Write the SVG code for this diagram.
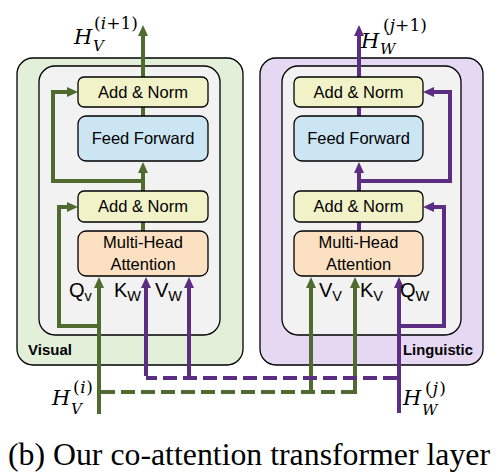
<svg xmlns="http://www.w3.org/2000/svg" width="498" height="474" viewBox="0 0 498 474">
<style>
.outer{stroke:#000;stroke-width:1.3}
.vis{fill:#E2EFD9}
.lin{fill:#E6D7F3}
.inner{fill:#F2F2F2;stroke:#000;stroke-width:1.3}
.an{fill:#F2F2C8;stroke:#000;stroke-width:1.3}
.ff{fill:#CBE5F3;stroke:#000;stroke-width:1.3}
.mha{fill:#FBE0C2;stroke:#000;stroke-width:1.3}
.bt{font-family:"Liberation Sans",Arial,sans-serif;font-size:16.5px;fill:#000;text-anchor:middle}
.lbl{font-family:"Liberation Sans",Arial,sans-serif;font-size:20px;fill:#000}
.sub{font-size:14.5px}
.tag{font-family:"Liberation Sans",Arial,sans-serif;font-size:15px;font-weight:bold;fill:#000}
.math{font-family:"DejaVu Serif","Liberation Serif",serif;fill:#000}
.it{font-style:italic}
.g{fill:none;stroke:#4F6B2F;stroke-width:4}
.p{fill:none;stroke:#5B2D83;stroke-width:4}
.dash{stroke-dasharray:14 6}
.ga{marker-end:url(#ag)}
.pa{marker-end:url(#ap)}
</style>
<defs>
<marker id="ag" markerUnits="userSpaceOnUse" markerWidth="12" markerHeight="11" refX="3" refY="5" orient="auto" viewBox="0 0 12 10">
<path d="M0,0 L11,5 L0,10 z" fill="#4F6B2F"/>
</marker>
<marker id="ap" markerUnits="userSpaceOnUse" markerWidth="12" markerHeight="11" refX="3" refY="5" orient="auto" viewBox="0 0 12 10">
<path d="M0,0 L11,5 L0,10 z" fill="#5B2D83"/>
</marker>
</defs>
<rect width="498" height="474" fill="#fff"/>
<g id="visual-block">
<rect class="outer vis" x="17" y="58" width="226" height="307" rx="16"/>
<rect class="inner" x="39" y="66" width="181" height="269" rx="16"/>
<text class="tag" x="28" y="355">Visual</text>
</g>
<g id="linguistic-block">
<rect class="outer lin" x="260" y="58" width="223" height="307" rx="16"/>
<rect class="inner" x="282" y="66" width="179" height="269" rx="16"/>
<text class="tag" x="403" y="355" style="font-size:14.8px">Linguistic</text>
</g>
<g id="connectors">
<!-- visual stream -->
<path class="g" d="M143,231 V222"/>
<path class="g ga" d="M143,191 V170"/>
<path class="g" d="M143,116 V107"/>
<path class="g ga" d="M143,77 V33"/>
<path class="g ga" d="M143,181 H53 V92 H70"/>
<path class="g ga" d="M99,326 H59 V207 H70"/>
<path class="g ga" d="M99,414 V285"/>
<path class="g dash" d="M101,392 H355"/>
<path class="g ga" d="M311,394 V285"/>
<path class="g ga" d="M355,394 V285"/>
<!-- linguistic stream -->
<path class="p" d="M359,231 V222"/>
<path class="p pa" d="M359,191 V170"/>
<path class="p" d="M359,116 V107"/>
<path class="p pa" d="M359,77 V33"/>
<path class="p pa" d="M359,181 H450 V92 H431"/>
<path class="p pa" d="M399,326 H444 V207 H431"/>
<path class="p pa" d="M399,413 V285"/>
<path class="p dash" d="M397,378 H146"/>
<path class="p pa" d="M146,376 V285"/>
<path class="p pa" d="M189,380 V285"/>
</g>
<g id="v-addnorm-top">
<rect class="an" x="78" y="77" width="130" height="30" rx="6"/>
<text class="bt" x="143" y="98">Add &amp; Norm</text>
</g>
<g id="v-feedforward">
<rect class="ff" x="78" y="116" width="130" height="45" rx="8"/>
<text class="bt" x="143" y="144">Feed Forward</text>
</g>
<g id="v-addnorm-bottom">
<rect class="an" x="78" y="191" width="130" height="31" rx="6"/>
<text class="bt" x="143" y="212">Add &amp; Norm</text>
</g>
<g id="v-mha">
<rect class="mha" x="78" y="231" width="130" height="45" rx="8"/>
<text class="bt" x="143" y="248">Multi-Head</text>
<text class="bt" x="143" y="270">Attention</text>
</g>
<g id="l-addnorm-top">
<rect class="an" x="294" y="77" width="129" height="30" rx="6"/>
<text class="bt" x="358.5" y="98">Add &amp; Norm</text>
</g>
<g id="l-feedforward">
<rect class="ff" x="294" y="116" width="129" height="45" rx="8"/>
<text class="bt" x="358.5" y="144">Feed Forward</text>
</g>
<g id="l-addnorm-bottom">
<rect class="an" x="294" y="191" width="129" height="31" rx="6"/>
<text class="bt" x="358.5" y="212">Add &amp; Norm</text>
</g>
<g id="l-mha">
<rect class="mha" x="294" y="231" width="129" height="45" rx="8"/>
<text class="bt" x="358.5" y="248">Multi-Head</text>
<text class="bt" x="358.5" y="270">Attention</text>
</g>
<g id="qkv-labels">
<text class="lbl" x="69" y="297">Q<tspan class="sub" dy="4">v</tspan></text>
<text class="lbl" x="114" y="297">K<tspan class="sub" dy="4">W</tspan></text>
<text class="lbl" x="155" y="297">V<tspan class="sub" dy="4">W</tspan></text>
<text class="lbl" x="319" y="297">V<tspan class="sub" dy="4">V</tspan></text>
<text class="lbl" x="360" y="297">K<tspan class="sub" dy="4">V</tspan></text>
<text class="lbl" x="400" y="297">Q<tspan class="sub" dy="4">W</tspan></text>
</g>
<g id="stream-labels">
<text class="math it" x="74" y="44" font-size="21">H</text>
<text class="math" x="94" y="29" font-size="17" textLength="44">(<tspan class="it">i</tspan>+1)</text>
<text class="math it" x="93" y="51" font-size="15">V</text>

<text class="math it" x="361" y="48" font-size="21">H</text>
<text class="math" x="383" y="31" font-size="17" textLength="44">(<tspan class="it">j</tspan>+1)</text>
<text class="math it" x="380" y="54" font-size="15">W</text>

<text class="math it" x="52" y="405" font-size="21">H</text>
<text class="math" x="73" y="393" font-size="17" textLength="20">(<tspan class="it">i</tspan>)</text>
<text class="math it" x="71" y="414" font-size="15">V</text>

<text class="math it" x="403" y="405" font-size="21">H</text>
<text class="math" x="425" y="394" font-size="17" textLength="21">(<tspan class="it">j</tspan>)</text>
<text class="math it" x="422" y="415" font-size="15">W</text>
</g>
<text id="caption" x="8" y="465" font-family="'Liberation Serif','Times New Roman',serif" font-size="31.8" textLength="482" fill="#000">(b) Our co-attention transformer layer</text>
</svg>
